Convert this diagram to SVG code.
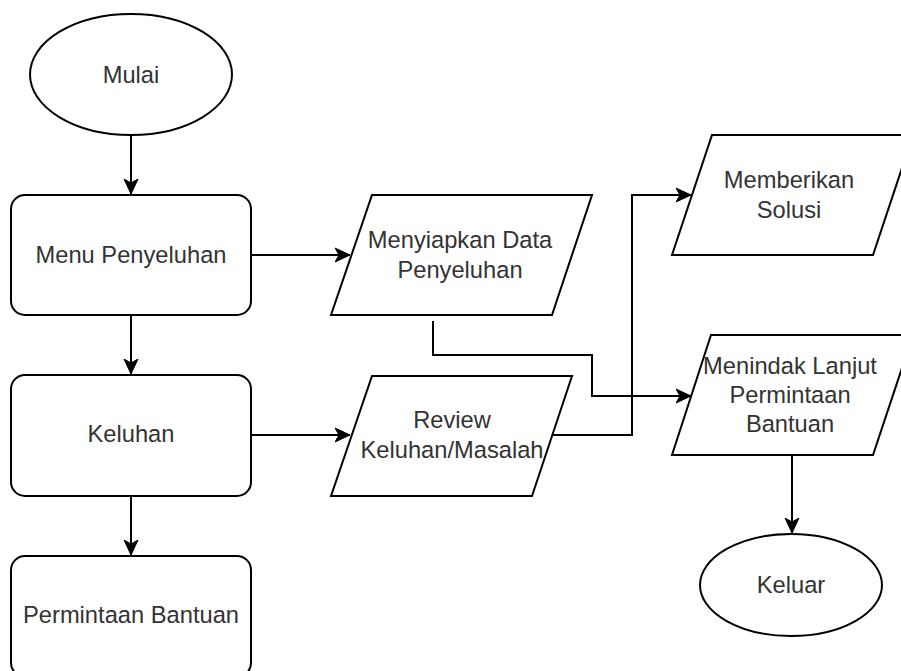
<svg xmlns="http://www.w3.org/2000/svg" width="901" height="671" viewBox="0 0 901 671">
<style>
.s{fill:#fff;stroke:#000;stroke-width:2}
.t{font-family:"Liberation Sans",Arial,sans-serif;font-size:23.7px;fill:#333;text-anchor:middle}
.c{fill:none;stroke:#000;stroke-width:2}
</style>
<defs>
<marker id="ar" viewBox="0 0 16 16" refX="15" refY="8" markerWidth="16" markerHeight="16" markerUnits="userSpaceOnUse" orient="auto">
<path d="M0,1 L15,8 L0,15 L4,8 Z" fill="#000" stroke="#000" stroke-width="1"/>
</marker>
</defs>
<rect width="901" height="671" fill="#fff"/>
<g id="connectors">
<path class="c" d="M131,135 V194" marker-end="url(#ar)"/>
<path class="c" d="M131,315 V374" marker-end="url(#ar)"/>
<path class="c" d="M131,496 V555" marker-end="url(#ar)"/>
<path class="c" d="M251,255 H350" marker-end="url(#ar)"/>
<path class="c" d="M251,435 H350" marker-end="url(#ar)"/>
<path class="c" d="M433,321 V355 H592 V396 H691" marker-end="url(#ar)"/>
<path class="c" d="M552,435 H632 V195 H691" marker-end="url(#ar)"/>
<path class="c" d="M792,455 V533" marker-end="url(#ar)"/>
</g>
<g id="mulai">
<ellipse class="s" cx="131" cy="74.5" rx="101" ry="60.5"/>
<text class="t" x="131" y="83">Mulai</text>
</g>
<g id="menu-penyeluhan">
<rect class="s" x="11" y="195" width="240" height="120" rx="14"/>
<text class="t" x="131" y="263">Menu Penyeluhan</text>
</g>
<g id="keluhan">
<rect class="s" x="11" y="375" width="240" height="121" rx="14"/>
<text class="t" x="131" y="442">Keluhan</text>
</g>
<g id="permintaan-bantuan">
<rect class="s" x="11" y="556" width="240" height="121" rx="14"/>
<text class="t" x="131" y="623">Permintaan Bantuan</text>
</g>
<g id="menyiapkan-data">
<polygon class="s" points="372,195 592,195 552,315 331,315"/>
<text class="t" x="460" y="248">Menyiapkan Data</text>
<text class="t" x="460" y="278">Penyeluhan</text>
</g>
<g id="review">
<polygon class="s" points="372,376 572,376 532,496 331,496"/>
<text class="t" x="452" y="428">Review</text>
<text class="t" x="452" y="458">Keluhan/Masalah</text>
</g>
<g id="memberikan-solusi">
<polygon class="s" points="712,135 913,135 873,255 672,255"/>
<text class="t" x="789" y="188">Memberikan</text>
<text class="t" x="789" y="218">Solusi</text>
</g>
<g id="menindak-lanjut">
<polygon class="s" points="711,335 913,335 873,455 672,455"/>
<text class="t" x="790" y="374">Menindak Lanjut</text>
<text class="t" x="790" y="403">Permintaan</text>
<text class="t" x="790" y="432">Bantuan</text>
</g>
<g id="keluar">
<ellipse class="s" cx="791" cy="585" rx="91" ry="51"/>
<text class="t" x="791" y="593">Keluar</text>
</g>
</svg>
